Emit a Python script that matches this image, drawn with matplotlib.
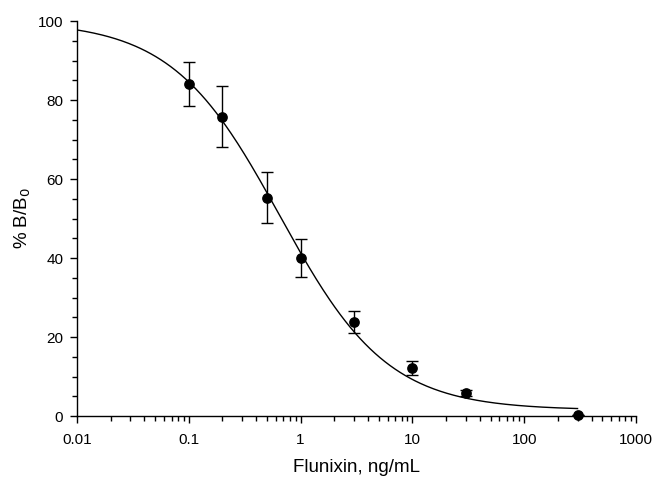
import numpy as np
import matplotlib.pyplot as plt
from matplotlib.ticker import FixedLocator, LogLocator, NullFormatter

plt.rcParams['font.family'] = ['Liberation Sans', 'DejaVu Sans']

# -------------------------------------------
# data

conc = [0.1, 0.2, 0.5, 1, 3, 10, 30, 300]
b_b0 = [84.0, 75.8, 55.3, 40.0, 23.7, 12.2, 5.9, 0.2]
b_b0_err = [5.6, 7.7, 6.5, 4.8, 2.8, 1.7, 0.8, 0.0]

# four-parameter logistic fit: top, bottom, IC50, slope
fit_top = 100.0
fit_bottom = 1.5
fit_ic50 = 0.65
fit_slope = 0.9
fit_range = (0.01, 300)

x_ticks = [0.01, 0.1, 1, 10, 100, 1000]
x_ticklabels = ['0.01', '0.1', '1', '10', '100', '1000']
y_ticks = [0, 20, 40, 60, 80, 100]

# -------------------------------------------

fig = plt.figure(figsize=(6.55, 4.79), dpi=100)
ax = fig.add_axes([0.1176, 0.1315, 0.8534, 0.8245])

xs = np.logspace(np.log10(fit_range[0]), np.log10(fit_range[1]), 300)
ys = fit_bottom + (fit_top - fit_bottom) / (1 + (xs / fit_ic50) ** fit_slope)
ax.plot(xs, ys, color='black', lw=1.0)

ax.errorbar(conc, b_b0, yerr=b_b0_err, fmt='o', color='black', ms=6.7,
            elinewidth=1.0, capsize=4.3, capthick=1.0, zorder=3, clip_on=False)

ax.set_xscale('log')
ax.set_xlim(0.01, 1000)
ax.set_ylim(0, 100)
ax.set_xticks(x_ticks)
ax.set_xticklabels(x_ticklabels)
ax.xaxis.set_minor_locator(LogLocator(base=10, subs=np.arange(2, 10)))
ax.xaxis.set_minor_formatter(NullFormatter())
ax.set_yticks(y_ticks)
ax.yaxis.set_minor_locator(FixedLocator(np.arange(0, 101, 5)))

for side in ['top', 'right']:
    ax.spines[side].set_visible(False)
ax.spines['left'].set_linewidth(1.0)
ax.spines['bottom'].set_linewidth(1.0)
ax.tick_params(which='major', direction='out', length=5, width=1.0, labelsize=11)
ax.tick_params(which='minor', direction='out', length=3.5, width=1.0)
ax.tick_params(axis='x', which='major', pad=7)
ax.tick_params(axis='y', which='major', pad=5)

ax.set_xlabel('Flunixin, ng/mL', fontsize=13.5, labelpad=9)
ax.set_ylabel('% B/B$_0$', fontsize=13.5, labelpad=3)

fig.savefig('out.png', dpi=100)
